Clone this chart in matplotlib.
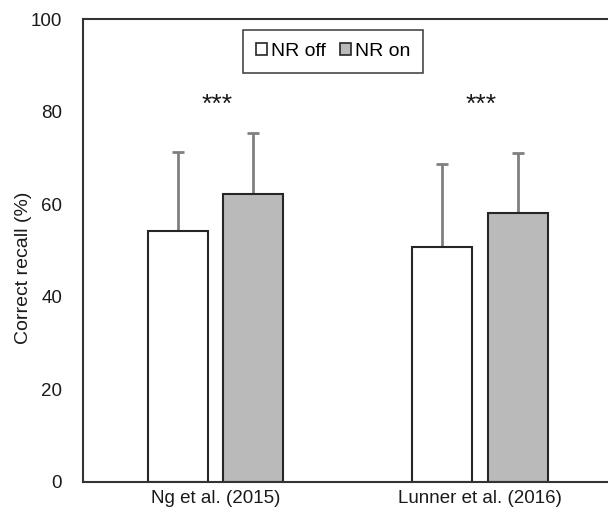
import matplotlib
matplotlib.use("Agg")
import matplotlib.pyplot as plt
import numpy as np

plt.rcParams['font.family'] = ['Liberation Sans', 'DejaVu Sans']

studies = ["Ng et al. (2015)", "Lunner et al. (2016)"]
nr_off = [54.2, 50.8]
nr_off_sd = [17.1, 17.9]
nr_on = [62.2, 58.1]
nr_on_sd = [13.2, 13.0]
significance = ["***", "***"]
yticks = [0, 20, 40, 60, 80, 100]

fig = plt.figure(figsize=(6.08, 5.14), dpi=100)
ax = fig.add_axes([83/608, 32/514, (608 - 83)/608, (482-19)/514])

x = np.arange(len(studies))
w = 0.227
off = 0.142
ekw = dict(ecolor='#808080', elinewidth=2, capsize=4, capthick=2)
ax.bar(x - off, nr_off, w, color='white', edgecolor='#262626', linewidth=1.5,
       label='NR off', zorder=2)
ax.errorbar(x - off, nr_off, yerr=[np.zeros(2), nr_off_sd], fmt='none', zorder=1, **ekw)
ax.bar(x + off, nr_on, w, color='#bababa', edgecolor='#262626', linewidth=1.5,
       label='NR on', zorder=2)
ax.errorbar(x + off, nr_on, yerr=[np.zeros(2), nr_on_sd], fmt='none', zorder=1, **ekw)

for xi, s in zip(x, significance):
    ax.text(xi + 0.005, 81.5, s, ha='center', va='center', fontsize=19, color='#1a1a1a')

ax.set_xlim(-0.501, 1.484)
ax.set_ylim(0, 100)
ax.set_yticks(yticks)
ax.set_xticks(x)
ax.set_xticklabels(studies)
ax.tick_params(axis='both', length=0, labelsize=13.5, colors='#1a1a1a', pad=6)
ax.tick_params(axis='y', pad=15)
ax.set_ylabel("Correct recall (%)", fontsize=14, color='#1a1a1a')
ax.yaxis.set_label_coords(-0.097, 0.462)
for sp in ['left', 'bottom', 'top']:
    ax.spines[sp].set_color('#333333')
    ax.spines[sp].set_linewidth(1.5)
ax.spines['right'].set_visible(False)

leg = fig.legend(loc='center', bbox_to_anchor=(333/608, 1 - 51.5/514), ncol=2,
                 frameon=True, fontsize=14, handlelength=0.57, handleheight=0.57,
                 handletextpad=0.2, columnspacing=0.7, fancybox=False,
                 borderpad=0.66)
leg.get_frame().set_edgecolor('#1a1a1a')
leg.get_frame().set_linewidth(1.2)
for h in leg.legend_handles:
    h.set_linewidth(1.2)

fig.savefig("out.png", dpi=100)
